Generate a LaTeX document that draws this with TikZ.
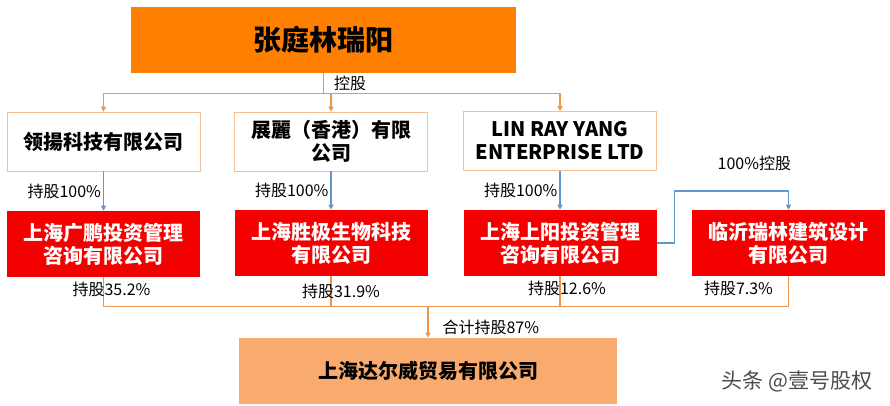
\documentclass[tikz,border=0pt]{standalone}
\usepackage{fontspec}
\setmainfont{Noto Sans CJK SC}
\usetikzlibrary{arrows.meta}
\definecolor{toporg}{RGB}{255,128,0}
\definecolor{botorg}{RGB}{249,170,110}
\definecolor{boxred}{RGB}{245,0,0}
\definecolor{peach}{RGB}{244,190,150}
\definecolor{lineorg}{RGB}{237,150,75}
\definecolor{lineblue}{RGB}{100,150,205}
\begin{document}
\begin{tikzpicture}
[x=1pt, y=-1pt, line join=round, >={Triangle[length=5pt,width=5pt]},
 cbox/.style={minimum width=193pt, minimum height=59pt, draw=peach, line width=.6pt,
   align=center, inner sep=0pt, font=\fontsize{20}{23}\selectfont\bfseries},
 rbox/.style={cbox, draw=none, fill=boxred, text=white, minimum height=66pt},
 org/.style={draw=lineorg, line width=1.2pt},
 blu/.style={draw=lineblue, line width=1.2pt},
 lab/.style={font=\fontsize{16}{18}\selectfont, inner sep=1pt}]
\useasboundingbox (0,0) rectangle (890,406);
% boxes
\node[fill=toporg, minimum width=385pt, minimum height=66pt, inner sep=0pt,
  font=\fontsize{28}{30}\selectfont\bfseries] (top) at (323.5,40) {张庭林瑞阳};
\node[cbox] (ly) at (103.5,141.5) {领揚科技有限公司};
\node[cbox] (zl) at (331,141.5) {展麗（香港）有限\\公司};
\node[cbox] (lr) at (560,141) {LIN RAY YANG\\ENTERPRISE LTD};
\node[rbox] (gp) at (103.5,244) {上海广鹏投资管理\\咨询有限公司};
\node[rbox] (sj) at (331,243) {上海胜极生物科技\\有限公司};
\node[rbox] (sy) at (560,243) {上海上阳投资管理\\咨询有限公司};
\node[rbox] (lx) at (788.5,243) {临沂瑞林建筑设计\\有限公司};
\node[cbox, draw=none, fill=botorg, minimum width=378pt, minimum height=66pt] (dw) at (428,371) {上海达尔威贸易有限公司};
\node[font=\fontsize{21}{23}\selectfont, text=black!70] (tt) at (797,381) {头条 @壹号股权};
% connectors
\draw[org] (top.south) -- ++(0,20) node[lab, midway, right=9pt]{控股};
\foreach \n in {ly,zl,lr}
\draw[org,->] (top.south) -- ++(0,20) -| (\n.north);
\foreach \a/\b in {ly/gp, zl/sj, lr/sy}
\draw[blu,->] (\a.south) -- (\b.north) node[lab, midway, left=1pt]{持股100\%};
\draw[blu,->] (sy.east) -- ++(18,0) -- ++(0,-52) -| (lx.north) node[lab, pos=0.35, above=19pt]{100\%控股};
\coordinate (hub) at ([yshift=31pt]dw.north);
\foreach \n/\p/\dx/\q in {gp/35.2/8/0.2, sj/31.9/10/0.25, sy/12.6/7/0.2, lx/7.3/-50/0.2}
\draw[org] (\n.south) |- (hub) node[lab, pos=\q, xshift=\dx pt]{持股\p\%};
\draw[org,->] (hub) -- (dw.north) node[lab, pos=0.68, right=13pt]{合计持股87\%};
\end{tikzpicture}
\end{document}
